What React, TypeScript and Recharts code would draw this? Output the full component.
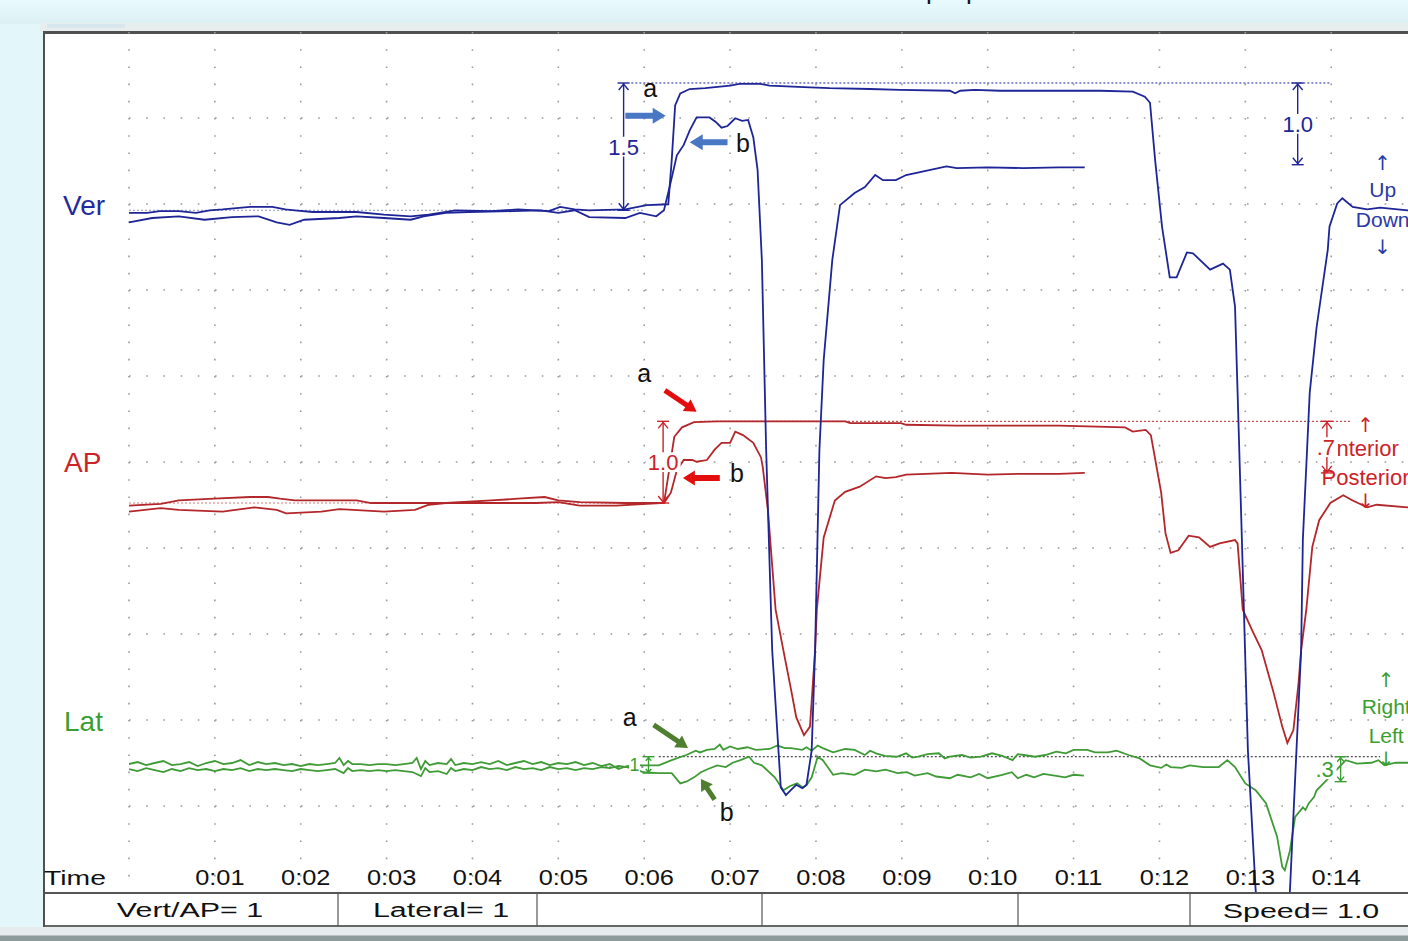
import React from 'react';
import { ComposedChart, Line, XAxis, YAxis, CartesianGrid, ReferenceLine, ReferenceDot } from 'recharts';

type Pt = [number, number];

const FONT = "'Liberation Sans', Arial, Helvetica, sans-serif";
const ARROW_FONT = "'DejaVu Sans', sans-serif";

// time axis (seconds) and its labels
const tickSeconds = [0, 1, 2, 3, 4, 5, 6, 7, 8, 9, 10, 11, 12, 13, 14, 15];
const tickLabels = ['', '0:01', '0:02', '0:03', '0:04', '0:05', '0:06', '0:07', '0:08', '0:09', '0:10', '0:11', '0:12', '0:13', '0:14', ''];
const gridRows = [1, 2, 3, 4, 5, 6, 7, 8, 9];

// channel value ranges (one grid division = 1.0)
const VER_DOMAIN: [number, number] = [-7.907, 2.093];
const AP_DOMAIN: [number, number] = [-4.523, 5.477];
const LAT_DOMAIN: [number, number] = [-1.453, 8.547];

// Vertical force, trial a (long plateau)
const verA: Pt[] = [
  [0, -0.01], [0.21, -0.01], [0.36, 0.01], [0.58, 0.01], [0.78, -0.01], [0.94, 0.02], [1.09, 0.03], [1.41, 0.06],
  [1.67, 0.06], [1.82, 0.03], [1.93, 0.02], [2.14, 0], [2.65, 0], [2.97, -0.03], [3.28, -0.05], [3.49, -0.03],
  [3.8, 0.02], [4.22, 0.01], [4.53, 0.03], [4.89, 0.01], [5.02, 0.06], [5.19, 0.03], [5.36, 0.02], [5.78, 0.03],
  [6.03, 0.08], [6.28, 0.09], [6.32, 0.6], [6.36, 1.24], [6.42, 1.38], [6.53, 1.43], [6.71, 1.44], [7.0, 1.47],
  [7.11, 1.49], [7.35, 1.49], [7.46, 1.47], [7.93, 1.45], [8.16, 1.44], [8.63, 1.43], [8.98, 1.42], [9.56, 1.41],
  [9.62, 1.38], [9.68, 1.41], [9.85, 1.42], [10.14, 1.41], [10.72, 1.41], [11.31, 1.41], [11.69, 1.4], [11.83, 1.34],
  [11.89, 1.27], [11.95, 0.6], [12.03, -0.17], [12.12, -0.76], [12.2, -0.76], [12.32, -0.47], [12.39, -0.48],
  [12.59, -0.67], [12.74, -0.6], [12.82, -0.67], [12.88, -1.1], [12.91, -2.1], [12.96, -3.81], [13.03, -6.26],
  [13.12, -7.88], [13.19, -8.7], [13.46, -8.7], [13.52, -7.88], [13.65, -5.09], [13.67, -3.81], [13.75, -2.1],
  [13.83, -1.34], [13.96, -0.44], [13.98, -0.17], [14.07, 0.1], [14.13, 0.16], [14.25, 0.06], [14.42, 0.03],
  [14.57, 0.05], [14.89, 0.02], [15.27, 0.02],
];

// Vertical force, trial b (short peak)
const verB: Pt[] = [
  [0, -0.12], [0.27, -0.07], [0.58, -0.05], [0.88, -0.09], [1.2, -0.06], [1.51, -0.05], [1.72, -0.12], [1.87, -0.15],
  [2.04, -0.09], [2.45, -0.07], [2.65, -0.05], [2.97, -0.07], [3.28, -0.09], [3.43, -0.05], [3.69, -0.01], [3.96, 0],
  [4.47, 0.01], [4.79, 0.02], [5.0, -0.01], [5.19, 0.02], [5.36, -0.06], [5.78, -0.07], [5.95, -0.01], [6.14, -0.05],
  [6.23, 0.02], [6.3, 0.31], [6.38, 0.66], [6.46, 0.78], [6.53, 0.95], [6.61, 1.1], [6.76, 1.1], [6.83, 1.05],
  [6.9, 0.98], [6.97, 1.0], [7.06, 1.09], [7.14, 1.06], [7.21, 1.07], [7.27, 0.87], [7.32, 0.49], [7.37, -0.56],
  [7.42, -2.77], [7.49, -5.09], [7.59, -6.69], [7.65, -6.78], [7.71, -6.72], [7.77, -6.66], [7.84, -6.7],
  [7.89, -6.66], [7.95, -6.26], [7.99, -5.09], [8.04, -2.77], [8.09, -1.72], [8.19, -0.56], [8.28, 0.08],
  [8.45, 0.22], [8.57, 0.29], [8.69, 0.43], [8.78, 0.37], [8.93, 0.37], [9.05, 0.43], [9.52, 0.53], [9.64, 0.51],
  [10.0, 0.52], [10.41, 0.51], [10.83, 0.52], [11.13, 0.52],
];

// Antero-posterior force, trial a
const apA: Pt[] = [
  [0, -0.03], [0.37, -0.01], [0.58, 0.03], [0.99, 0.05], [1.41, 0.07], [1.62, 0.07], [1.76, 0.05], [1.93, 0.03],
  [2.65, 0.03], [2.82, 0], [3.39, 0], [3.69, 0], [4.22, 0.03], [4.53, 0.05], [4.84, 0.07], [5.0, 0.03], [5.25, 0.01],
  [5.78, 0], [6.23, 0], [6.29, 0.38], [6.35, 0.77], [6.44, 0.88], [6.58, 0.94], [6.85, 0.95], [8.34, 0.95],
  [8.4, 0.93], [8.99, 0.93], [9.05, 0.91], [9.64, 0.9], [10.83, 0.9], [11.6, 0.88], [11.69, 0.83], [11.84, 0.85],
  [11.9, 0.79], [12.02, 0.12], [12.07, -0.35], [12.13, -0.58], [12.22, -0.55], [12.34, -0.38], [12.46, -0.4],
  [12.59, -0.51], [12.7, -0.47], [12.88, -0.43], [12.91, -0.47], [12.97, -1.24], [13.08, -1.48], [13.19, -1.71],
  [13.32, -2.17], [13.43, -2.6], [13.49, -2.79], [13.56, -2.64], [13.62, -2.09], [13.65, -1.71], [13.71, -1.24],
  [13.78, -0.51], [13.86, -0.2], [13.99, 0], [14.14, 0.09], [14.25, 0.03], [14.42, -0.05], [14.53, -0.02],
  [14.89, -0.05], [15.27, -0.03],
];

// Antero-posterior force, trial b
const apB: Pt[] = [
  [0, -0.1], [0.37, -0.06], [0.58, -0.08], [1.09, -0.1], [1.46, -0.05], [1.72, -0.08], [1.83, -0.12], [2.24, -0.1],
  [2.45, -0.07], [2.97, -0.1], [3.33, -0.08], [3.49, -0.02], [3.69, 0], [4.74, 0], [5.0, 0.01], [5.25, -0.03],
  [5.67, -0.03], [6.19, 0], [6.23, 0], [6.31, 0.12], [6.38, 0.38], [6.46, 0.5], [6.56, 0.5], [6.61, 0.48],
  [6.73, 0.5], [6.82, 0.62], [6.9, 0.7], [7.0, 0.7], [7.06, 0.83], [7.15, 0.79], [7.27, 0.7], [7.36, 0.53],
  [7.38, 0.42], [7.44, -0.08], [7.53, -1.24], [7.62, -1.71], [7.71, -2.17], [7.77, -2.49], [7.86, -2.7],
  [7.93, -2.6], [7.99, -1.71], [8.01, -1.24], [8.09, -0.4], [8.22, 0.03], [8.34, 0.13], [8.51, 0.19], [8.7, 0.31],
  [8.81, 0.29], [8.93, 0.3], [9.05, 0.33], [9.58, 0.35], [10.0, 0.33], [10.41, 0.34], [10.83, 0.34], [11.13, 0.35],
];

// Lateral force, trial a
const latA: Pt[] = [
  [0, 0.035], [0.1, 0.058], [0.2, 0.023], [0.3, 0.047], [0.4, 0.07], [0.5, 0.023], [0.6, 0.035], [0.7, 0.058],
  [0.8, 0.012], [0.9, 0.047], [1.0, 0.07], [1.1, 0.035], [1.2, 0.047], [1.3, 0.081], [1.4, 0.023], [1.5, 0.058],
  [1.6, 0.035], [1.7, 0.047], [1.8, 0.023], [1.9, 0.035], [2.0, 0.012], [2.1, 0.035], [2.2, 0.023], [2.3, 0.035],
  [2.4, 0.047], [2.45, 0.105], [2.5, 0.023], [2.55, 0.07], [2.6, 0.035], [2.7, 0.035], [2.8, 0.023], [2.9, 0.035],
  [3.0, 0.035], [3.1, 0.023], [3.2, 0.035], [3.3, 0.047], [3.35, 0.105], [3.4, -0.023], [3.45, 0.07], [3.5, 0.023],
  [3.6, 0.047], [3.7, 0.035], [3.75, 0.093], [3.8, 0.023], [3.9, 0.047], [4.0, 0.035], [4.1, 0.058], [4.2, 0.035],
  [4.3, 0.07], [4.4, 0.023], [4.5, 0.047], [4.6, 0.07], [4.7, 0.035], [4.8, 0.058], [4.9, 0.023], [5.0, 0.047],
  [5.1, 0.035], [5.2, 0.058], [5.3, 0.023], [5.4, 0.047], [5.5, 0.012], [5.6, 0.035], [5.7, -0.023], [5.8, 0.012],
  [5.9, 0.023], [5.99, 0.02], [6.17, 0.02], [6.32, 0.08], [6.49, 0.14], [6.6, 0.19], [6.65, 0.17], [6.73, 0.2],
  [6.82, 0.21], [6.88, 0.26], [6.92, 0.2], [7.0, 0.24], [7.09, 0.21], [7.2, 0.23], [7.3, 0.2], [7.46, 0.21],
  [7.55, 0.25], [7.64, 0.22], [7.71, 0.22], [7.84, 0.2], [7.89, 0.23], [7.95, 0.19], [8.02, 0.25], [8.08, 0.22],
  [8.2, 0.17], [8.34, 0.21], [8.45, 0.2], [8.57, 0.14], [8.63, 0.19], [8.7, 0.16], [8.8, 0.13], [8.94, 0.12],
  [9.05, 0.16], [9.12, 0.11], [9.19, 0.12], [9.3, 0.15], [9.43, 0.16], [9.5, 0.1], [9.56, 0.12], [9.7, 0.14],
  [9.8, 0.11], [9.92, 0.12], [10.05, 0.16], [10.17, 0.13], [10.29, 0.08], [10.35, 0.15], [10.42, 0.14],
  [10.55, 0.12], [10.67, 0.14], [10.8, 0.18], [10.91, 0.16], [11.0, 0.2], [11.16, 0.2], [11.25, 0.17], [11.4, 0.17],
  [11.5, 0.19], [11.64, 0.14], [11.77, 0.1], [11.89, 0.02], [12.02, -0.01], [12.08, 0.03], [12.13, 0],
  [12.26, -0.01], [12.35, 0.02], [12.51, 0], [12.69, 0], [12.79, 0.08], [12.88, 0], [13.0, -0.19], [13.12, -0.27],
  [13.24, -0.42], [13.37, -0.81], [13.43, -1.16], [13.46, -1.2], [13.52, -0.97], [13.58, -0.58], [13.67, -0.47],
  [13.7, -0.5], [13.74, -0.42], [13.8, -0.35], [13.83, -0.27], [13.91, -0.19], [14.17, 0.08], [14.3, 0.04],
  [14.47, 0.05], [14.55, 0.08], [14.62, 0.02], [14.75, 0.05], [14.89, 0.05], [15.27, 0.03],
];

// Lateral force, trial b
const latB: Pt[] = [
  [0, -0.023], [0.1, -0.047], [0.2, -0.012], [0.3, -0.035], [0.4, -0.058], [0.5, -0.023], [0.6, -0.047],
  [0.7, -0.012], [0.8, -0.035], [0.9, -0.023], [1.0, -0.047], [1.1, -0.023], [1.2, -0.035], [1.3, -0.012],
  [1.4, -0.047], [1.5, -0.023], [1.6, -0.035], [1.7, -0.023], [1.8, -0.035], [1.9, -0.047], [2.0, -0.023],
  [2.1, -0.035], [2.2, -0.047], [2.3, -0.035], [2.4, -0.023], [2.5, -0.07], [2.55, -0.012], [2.6, -0.047],
  [2.7, -0.035], [2.8, -0.047], [2.9, -0.035], [3.0, -0.047], [3.1, -0.035], [3.2, -0.047], [3.3, -0.058],
  [3.4, -0.105], [3.45, -0.012], [3.5, -0.058], [3.6, -0.047], [3.7, -0.081], [3.75, -0.012], [3.8, -0.047],
  [3.9, -0.023], [4.0, -0.035], [4.1, 0], [4.2, -0.023], [4.3, -0.012], [4.4, -0.035], [4.5, 0], [4.6, -0.023],
  [4.7, -0.012], [4.8, -0.035], [4.9, 0], [5.0, -0.023], [5.1, -0.012], [5.2, -0.035], [5.3, -0.012], [5.4, -0.023],
  [5.5, 0], [5.6, -0.012], [5.7, 0.012], [5.8, 0], [5.99, -0.06], [6.17, -0.07], [6.32, -0.07], [6.42, -0.19],
  [6.49, -0.17], [6.58, -0.12], [6.66, -0.06], [6.75, -0.02], [6.85, 0.02], [6.95, 0], [7.03, 0.05], [7.12, 0.08],
  [7.22, 0.12], [7.28, 0.05], [7.37, 0.02], [7.52, -0.12], [7.62, -0.27], [7.7, -0.22], [7.78, -0.19],
  [7.85, -0.24], [7.89, -0.21], [7.95, -0.12], [8.02, 0.12], [8.08, 0.08], [8.2, -0.09], [8.3, -0.07], [8.45, -0.09],
  [8.57, -0.03], [8.7, -0.05], [8.81, -0.03], [8.95, -0.07], [9.06, -0.06], [9.15, -0.1], [9.3, -0.07],
  [9.4, -0.11], [9.56, -0.13], [9.65, -0.09], [9.8, -0.12], [9.9, -0.08], [10.0, -0.13], [10.17, -0.09],
  [10.28, -0.06], [10.35, -0.13], [10.45, -0.09], [10.54, -0.12], [10.65, -0.08], [10.78, -0.1], [10.9, -0.12],
  [11.0, -0.09], [11.12, -0.1],
];

const rows = (pts: Pt[]) => pts.map(([t, v]) => ({ t, v }));
// horizontal grid rows, expressed on the vertical-channel axis (one division below its top each)
const gridRowsVer = gridRows.map((k) => +(VER_DOMAIN[1] - k).toFixed(3));

const VER = '#1e2596';
const AP = '#b3262a';
const LAT = '#3f9b36';
const VER_TXT = '#2a3aa6';
const AP_TXT = '#cc2328';
const LAT_TXT = '#3a9f32';
const BLUE_ARROW = '#4a77c4';
const RED_ARROW = '#e30d0d';
const GREEN_ARROW = '#4f7f2e';
const GRID = '#9a9a9a';

function blockArrow(color: string, shaft: number, head: number, headLen: number) {
  return (p: any) => {
    const x1 = Number(p.x1), y1 = Number(p.y1), x2 = Number(p.x2), y2 = Number(p.y2);
    const L = Math.hypot(x2 - x1, y2 - y1) || 1;
    const ux = (x2 - x1) / L, uy = (y2 - y1) / L;
    const nx = -uy, ny = ux;
    const bx = x2 - ux * headLen, by = y2 - uy * headLen;
    const pts = [
      [x1 + (nx * shaft) / 2, y1 + (ny * shaft) / 2],
      [bx + (nx * shaft) / 2, by + (ny * shaft) / 2],
      [bx + (nx * head) / 2, by + (ny * head) / 2],
      [x2, y2],
      [bx - (nx * head) / 2, by - (ny * head) / 2],
      [bx - (nx * shaft) / 2, by - (ny * shaft) / 2],
      [x1 - (nx * shaft) / 2, y1 - (ny * shaft) / 2],
    ];
    return <polygon points={pts.map((q) => q.join(',')).join(' ')} fill={color} />;
  };
}

// vertical measuring bar with end bars and arrowheads, and an optional boxed label at its middle
function measureShape(color: string, head = 7, label = '', size = 22, dx = 0) {
  return (p: any) => {
    const x = Number(p.x1);
    const ya = Math.min(Number(p.y1), Number(p.y2));
    const yb = Math.max(Number(p.y1), Number(p.y2));
    const my = (ya + yb) / 2;
    const w = 6;
    const bw = label.length * size * 0.5 + 2;
    const bh = size * 0.9;
    return (
      <g>
        <g stroke={color} strokeWidth={1.4} fill="none">
          <line x1={x} y1={ya} x2={x} y2={yb} />
          <line x1={x - w} y1={ya} x2={x + w} y2={ya} />
          <polyline points={`${x - head * 0.7},${ya + head} ${x},${ya + 1} ${x + head * 0.7},${ya + head}`} />
          <line x1={x - w} y1={yb} x2={x + w} y2={yb} />
          <polyline points={`${x - head * 0.7},${yb - head} ${x},${yb - 1} ${x + head * 0.7},${yb - head}`} />
        </g>
        {label ? (
          <g>
            <rect x={x + dx - bw / 2} y={my - bh / 2} width={bw} height={bh} fill="#ffffff" />
            <text x={x + dx} y={my} dy="0.36em" textAnchor="middle" fill={color} fontSize={size} fontFamily={FONT}>
              {label}
            </text>
          </g>
        ) : null}
      </g>
    );
  };
}

function textShape(label: string, color: string, size: number, family = FONT) {
  return (p: any) => (
    <text x={p.cx} y={p.cy} dy="0.36em" textAnchor="middle" fill={color} fontSize={size} fontFamily={family}>
      {label}
    </text>
  );
}

// text drawn in the reference-line layer, anchored at the segment start
function textSeg(label: string, color: string, size: number) {
  return (p: any) => (
    <text x={Number(p.x1)} y={Number(p.y1)} dy="0.36em" textAnchor="start" fill={color} fontSize={size} fontFamily={FONT}>
      {label}
    </text>
  );
}

const renderTick = (props: any) => {
  const { x, y, payload } = props;
  const idx = tickSeconds.indexOf(payload.value);
  const label = idx >= 0 ? tickLabels[idx] : '';
  if (!label) return <g />;
  return (
    <text transform={`translate(${x + 5},${y - 7}) scale(1.18,1)`} textAnchor="middle" fontSize={21.5} fill="#111" fontFamily={FONT}>
      {label}
    </text>
  );
};

const lineCommon = { type: 'linear' as const, dot: false, activeDot: false, isAnimationActive: false, dataKey: 'v', strokeWidth: 1.8 };

export default function App() {
  return (
    <div style={{ position: 'fixed', left: 0, top: 0, width: 1408, height: 941, overflow: 'hidden', background: '#e3f6fa', fontFamily: FONT }}>
      <div style={{ position: 'absolute', left: 0, top: 0, width: 1408, height: 24, background: 'linear-gradient(#e9fafd, #dbf0f4)' }} />
      <div style={{ position: 'absolute', left: 40, top: 23, width: 1400, height: 9, background: '#e8eded' }} />
      <div style={{ position: 'absolute', left: 47, top: 24, width: 78, height: 4, background: '#d8e6ee' }} />
      <div style={{ position: 'absolute', left: 43, top: 31, width: 1420, height: 897, background: '#ffffff', borderTop: '3px solid #505050', borderLeft: '2px solid #505050', boxSizing: 'border-box' }} />
      <div style={{ position: 'absolute', left: 0, top: 0 }}>
        <ComposedChart width={1500} height={941} margin={{ top: 32, right: 40, bottom: 19, left: 129 }}>
          <XAxis
            dataKey="t"
            type="number"
            domain={[0, 15.5]}
            ticks={tickSeconds}
            interval={0}
            allowDataOverflow
            height={30}
            axisLine={false}
            tickLine={false}
            tickSize={0}
            tickMargin={0}
            tick={renderTick}
          />
          <YAxis hide type="number" domain={[0, 10]} ticks={gridRows} />
          <YAxis yAxisId="ver" hide type="number" domain={VER_DOMAIN} allowDataOverflow />
          <YAxis yAxisId="ap" hide type="number" domain={AP_DOMAIN} allowDataOverflow />
          <YAxis yAxisId="lat" hide type="number" domain={LAT_DOMAIN} allowDataOverflow />
          <CartesianGrid stroke={GRID} strokeWidth={1.6} strokeDasharray="1.6 15.6" horizontal={false} vertical />
          {gridRowsVer.map((r) => (
            <ReferenceLine key={`row${r}`} yAxisId="ver" y={r} stroke={GRID} strokeWidth={1.6} strokeDasharray="1.6 15.6" ifOverflow="visible" />
          ))}

          {/* dotted reference levels */}
          <ReferenceLine yAxisId="ver" segment={[{ x: 0, y: 0.02 }, { x: 6.0, y: 0.02 }]} stroke={VER} strokeOpacity={0.5} strokeDasharray="2 2" strokeWidth={1} ifOverflow="visible" />
          <ReferenceLine yAxisId="ver" segment={[{ x: 5.85, y: 1.5 }, { x: 13.98, y: 1.5 }]} stroke={VER} strokeDasharray="2 2" strokeWidth={1} ifOverflow="visible" />
          <ReferenceLine yAxisId="ap" segment={[{ x: 0, y: 0 }, { x: 6.2, y: 0 }]} stroke={AP} strokeOpacity={0.6} strokeDasharray="2 2" strokeWidth={1} ifOverflow="visible" />
          <ReferenceLine yAxisId="ap" segment={[{ x: 6.65, y: 0.95 }, { x: 14.24, y: 0.95 }]} stroke={AP} strokeDasharray="2 2" strokeWidth={1} ifOverflow="visible" />
          <ReferenceLine yAxisId="lat" segment={[{ x: 5.5, y: 0 }, { x: 6.0, y: 0 }]} stroke="#222" strokeDasharray="2 2" strokeWidth={1} ifOverflow="visible" />
          <ReferenceLine yAxisId="lat" segment={[{ x: 6.17, y: 0.12 }, { x: 14.57, y: 0.12 }]} stroke="#222" strokeDasharray="2 2" strokeWidth={1} ifOverflow="visible" />

          <Line {...lineCommon} yAxisId="lat" data={rows(latB)} stroke={LAT} />
          <Line {...lineCommon} yAxisId="lat" data={rows(latA)} stroke={LAT} />
          <Line {...lineCommon} yAxisId="ap" data={rows(apB)} stroke={AP} />
          <Line {...lineCommon} yAxisId="ap" data={rows(apA)} stroke={AP} />
          <Line {...lineCommon} yAxisId="ver" data={rows(verB)} stroke={VER} />
          <Line {...lineCommon} yAxisId="ver" data={rows(verA)} stroke={VER} />

          {/* Vertical annotations */}
          <ReferenceDot yAxisId="ver" x={6.07} y={1.44} r={0} shape={textShape('a', '#111', 25)} ifOverflow="visible" />
          <ReferenceDot yAxisId="ver" x={7.15} y={0.8} r={0} shape={textShape('b', '#111', 25)} ifOverflow="visible" />
          <ReferenceDot yAxisId="ver" x={14.6} y={0.57} r={0} shape={textShape('↑', VER_TXT, 20, ARROW_FONT)} ifOverflow="visible" />
          <ReferenceDot yAxisId="ver" x={14.6} y={0.26} r={0} shape={textShape('Up', VER_TXT, 21)} ifOverflow="visible" />
          <ReferenceDot yAxisId="ver" x={14.6} y={-0.09} r={0} shape={textShape('Down', VER_TXT, 21)} ifOverflow="visible" />
          <ReferenceDot yAxisId="ver" x={14.6} y={-0.4} r={0} shape={textShape('↓', VER_TXT, 20, ARROW_FONT)} ifOverflow="visible" />
          <ReferenceLine yAxisId="ver" segment={[{ x: 5.76, y: 1.5 }, { x: 5.76, y: 0.02 }]} shape={measureShape(VER, 7, '1.5', 22)} ifOverflow="visible" />
          <ReferenceLine yAxisId="ver" segment={[{ x: 13.61, y: 1.5 }, { x: 13.61, y: 0.55 }]} shape={measureShape(VER, 7, '1.0', 22)} ifOverflow="visible" />
          <ReferenceLine yAxisId="ver" segment={[{ x: 5.78, y: 1.12 }, { x: 6.25, y: 1.12 }]} shape={blockArrow(BLUE_ARROW, 6, 16, 13)} ifOverflow="visible" />
          <ReferenceLine yAxisId="ver" segment={[{ x: 6.97, y: 0.81 }, { x: 6.53, y: 0.81 }]} shape={blockArrow(BLUE_ARROW, 6, 16, 13)} ifOverflow="visible" />

          {/* AP annotations */}
          <ReferenceDot yAxisId="ap" x={6.0} y={1.51} r={0} shape={textShape('a', '#111', 25)} ifOverflow="visible" />
          <ReferenceDot yAxisId="ap" x={7.08} y={0.35} r={0} shape={textShape('b', '#111', 25)} ifOverflow="visible" />
          <ReferenceDot yAxisId="ap" x={14.4} y={0.91} r={0} shape={textShape('↑', AP_TXT, 20, ARROW_FONT)} ifOverflow="visible" />
          <ReferenceDot yAxisId="ap" x={14.4} y={0.3} r={0} shape={textShape('Posterior', AP_TXT, 22)} ifOverflow="visible" />
          <ReferenceDot yAxisId="ap" x={14.4} y={0.03} r={0} shape={textShape('↓', AP_TXT, 20, ARROW_FONT)} ifOverflow="visible" />
          <ReferenceLine yAxisId="ap" segment={[{ x: 6.22, y: 0.95 }, { x: 6.22, y: 0 }]} shape={measureShape(AP_TXT, 7, '1.0', 22)} ifOverflow="visible" />
          <ReferenceLine yAxisId="ap" segment={[{ x: 13.89, y: 0.64 }, { x: 13.9, y: 0.64 }]} shape={textSeg('Anterior', AP_TXT, 22)} ifOverflow="visible" />
          <ReferenceLine yAxisId="ap" segment={[{ x: 13.95, y: 0.95 }, { x: 13.95, y: 0.35 }]} shape={measureShape(AP_TXT, 7, '.7', 22, -1)} ifOverflow="visible" />
          <ReferenceLine yAxisId="ap" segment={[{ x: 6.24, y: 1.31 }, { x: 6.61, y: 1.06 }]} shape={blockArrow(RED_ARROW, 5, 14, 12)} ifOverflow="visible" />
          <ReferenceLine yAxisId="ap" segment={[{ x: 6.88, y: 0.29 }, { x: 6.45, y: 0.29 }]} shape={blockArrow(RED_ARROW, 6, 15, 12)} ifOverflow="visible" />

          {/* Lateral annotations */}
          <ReferenceDot yAxisId="lat" x={5.83} y={0.58} r={0} shape={textShape('a', '#111', 25)} ifOverflow="visible" />
          <ReferenceDot yAxisId="lat" x={6.96} y={-0.52} r={0} shape={textShape('b', '#111', 25)} ifOverflow="visible" />
          <ReferenceDot yAxisId="lat" x={14.64} y={1.01} r={0} shape={textShape('↑', LAT_TXT, 20, ARROW_FONT)} ifOverflow="visible" />
          <ReferenceDot yAxisId="lat" x={14.64} y={0.71} r={0} shape={textShape('Right', LAT_TXT, 21)} ifOverflow="visible" />
          <ReferenceDot yAxisId="lat" x={14.64} y={0.37} r={0} shape={textShape('Left', LAT_TXT, 21)} ifOverflow="visible" />
          <ReferenceDot yAxisId="lat" x={14.64} y={0.1} r={0} shape={textShape('↓', LAT_TXT, 20, ARROW_FONT)} ifOverflow="visible" />
          <ReferenceLine yAxisId="lat" segment={[{ x: 6.05, y: 0.12 }, { x: 6.05, y: -0.07 }]} shape={measureShape(LAT_TXT, 4, '1', 18, -14)} ifOverflow="visible" />
          <ReferenceLine yAxisId="lat" segment={[{ x: 14.11, y: 0.12 }, { x: 14.11, y: -0.17 }]} shape={measureShape(LAT_TXT, 5, '.3', 22, -16)} ifOverflow="visible" />
          <ReferenceLine yAxisId="lat" segment={[{ x: 6.11, y: 0.49 }, { x: 6.51, y: 0.22 }]} shape={blockArrow(GREEN_ARROW, 5, 14, 12)} ifOverflow="visible" />
          <ReferenceLine yAxisId="lat" segment={[{ x: 6.82, y: -0.38 }, { x: 6.66, y: -0.14 }]} shape={blockArrow(GREEN_ARROW, 5, 14, 11)} ifOverflow="visible" />
        </ComposedChart>
      </div>

      <svg width={1408} height={941} style={{ position: 'absolute', left: 0, top: 0, pointerEvents: 'none' }} fontFamily={FONT}>
        <text x={926} y={-1} fontSize={26} fill="#111">p</text>
        <text x={966} y={-1} fontSize={26} fill="#111">p</text>
        <text x={63} y={215} fontSize={28} fill="#1f2a9e">Ver</text>
        <text x={64} y={472} fontSize={28} fill={AP_TXT}>AP</text>
        <text x={64} y={731} fontSize={28} fill={LAT_TXT}>Lat</text>
        <text transform="translate(44,885) scale(1.35,1)" fontSize={21} fill="#111">Time</text>
        <rect x={43} y={892} width={1400} height={35} fill="#ffffff" />
        <line x1={43} y1={893} x2={1408} y2={893} stroke="#555" strokeWidth={2} />
        <line x1={43} y1={926} x2={1408} y2={926} stroke="#666" strokeWidth={2} />
        <line x1={44} y1={892} x2={44} y2={927} stroke="#505050" strokeWidth={2} />
        {[338, 537, 762, 1018, 1190].map((x) => (
          <line key={x} x1={x} y1={893} x2={x} y2={926} stroke="#555" strokeWidth={1.2} />
        ))}
        <text transform="translate(190,917) scale(1.45,1)" textAnchor="middle" fontSize={21} fill="#111">Vert/AP= 1</text>
        <text transform="translate(441,917) scale(1.45,1)" textAnchor="middle" fontSize={21} fill="#111">Lateral= 1</text>
        <text transform="translate(1301,918) scale(1.45,1)" textAnchor="middle" fontSize={21} fill="#111">Speed= 1.0</text>
        <rect x={0} y={927} width={1408} height={9} fill="#e6ebeb" />
        <rect x={0} y={935.5} width={1408} height={6} fill="#8e9b9b" />
      </svg>
    </div>
  );
}
